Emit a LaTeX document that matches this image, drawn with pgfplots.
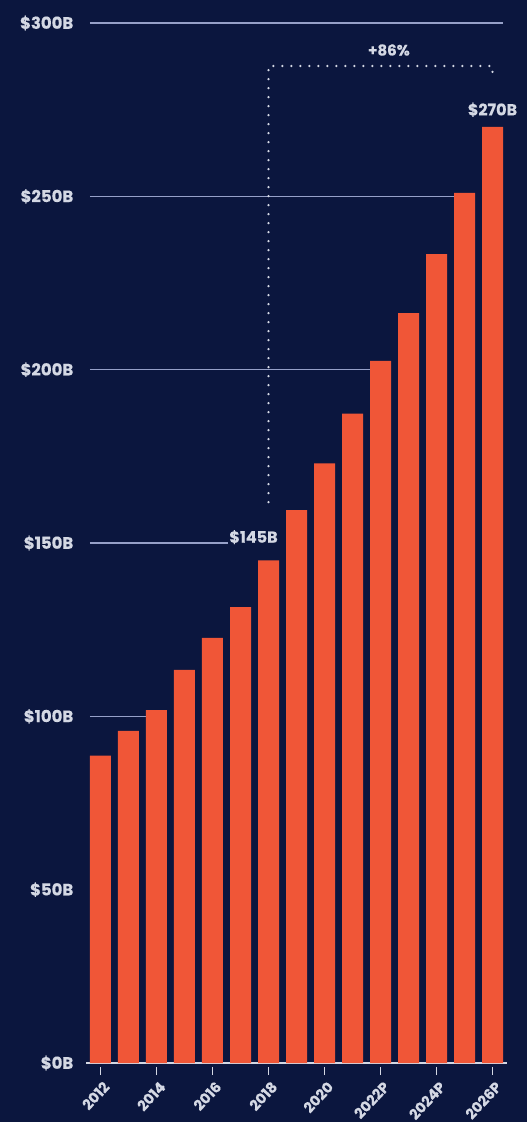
\documentclass[border=0pt]{standalone}
\usepackage{fontspec}
\setmainfont{Poppins}[FakeBold=0.3]
\usepackage{pgfplots}
\pgfplotsset{compat=1.18}

\definecolor{bg}{RGB}{11,22,62}
\definecolor{bar}{RGB}{240,86,55}
\definecolor{gridc}{RGB}{150,160,200}
\definecolor{txt}{RGB}{212,216,228}

\newcommand{\lbl}[1]{\fontsize{#1}{#1}\selectfont\bfseries}

\begin{document}
\begin{tikzpicture}
\fill[bg] (-86.5pt,-59pt) rectangle (440.5pt,1063pt);

\begin{axis}[
    scale only axis,
    width=420pt, height=1040pt,
    xmin=-0.5, xmax=14.5,
    ymin=0, ymax=300,
    clip=false,
    axis x line*=bottom,
    axis y line*=left,
    x axis line style={draw=txt, line width=1.8pt, -},
    y axis line style={draw=none},
    xtick={0,2,...,14},
    xticklabels={2012,2014,2016,2018,2020,2022P,2024P,2026P},
    ytick={0,50,...,300},
    yticklabels={\$0B,\$50B,\$100B,\$150B,\$200B,\$250B,\$300B},
    tick align=outside,
    major tick length=8pt,
    xtick style={draw=txt, line width=1.3pt, yshift=-4pt},
    ytick style={draw=none},
    yticklabel style={anchor=east, inner sep=0pt, xshift=-5pt, text=txt, font=\lbl{16.5}},
    xticklabel style={anchor=east, inner sep=0pt, xshift=6pt, yshift=-13pt, rotate=47, text=txt, font=\lbl{14.5}},
]
% partial grid lines, stopping at the first taller bar
\addplot[gridc, line width=1.2pt] coordinates {(-0.375,100) (1.625,100)};
\addplot[gridc, line width=1.2pt] coordinates {(-0.375,150) (4.55,150)};
\addplot[gridc, line width=1.2pt] coordinates {(-0.375,200) (9.625,200)};
\addplot[gridc, line width=1.2pt] coordinates {(-0.375,250) (12.625,250)};
\addplot[gridc, line width=1.2pt] coordinates {(-0.375,300) (14.375,300)};

\addplot[ybar, bar width=0.75, fill=bar, draw=none] coordinates {
    (0,88.7) (1,95.8) (2,101.8) (3,113.4) (4,122.6) (5,131.5) (6,145)
    (7,159.5) (8,173) (9,187.3) (10,202.5) (11,216.3) (12,233.3) (13,251) (14,270)
};

% growth bracket
\draw[txt, line width=2.6pt, line cap=round, dash pattern=on 0pt off 9pt]
    (axis cs:6,161.8) -- (axis cs:6,287.6) -- (axis cs:14,287.6) -- (axis cs:14,284);
\node[text=txt, font=\lbl{15}] at (axis cs:10.3,292.2) {+86\%};

\node[text=txt, anchor=south, inner sep=0pt, yshift=10pt, font=\lbl{16}] at (axis cs:14,270) {\$270B};
\node[text=txt, anchor=south, inner sep=0pt, yshift=16pt, xshift=-15pt, font=\lbl{16}] at (axis cs:6,145) {\$145B};
\end{axis}

\pgfresetboundingbox
\path[use as bounding box] (-86.5pt,-59pt) rectangle (440.5pt,1063pt);
\end{tikzpicture}
\end{document}
